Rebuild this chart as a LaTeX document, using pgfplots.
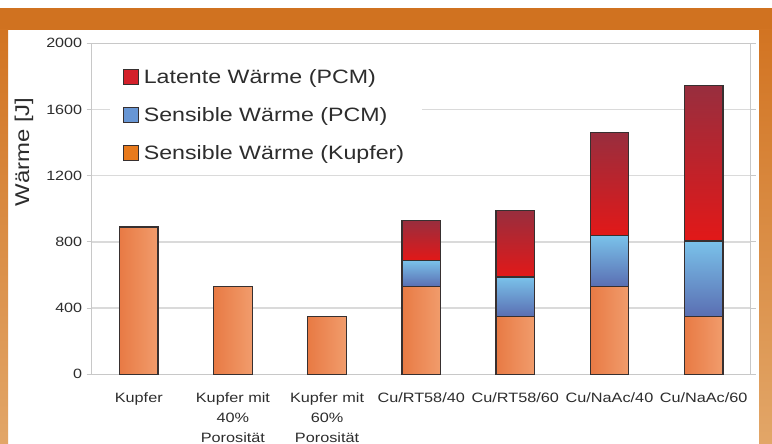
\documentclass[border=0pt]{standalone}
\usepackage{fontspec}
\setmainfont{Liberation Sans}[FakeStretch=1.2]
\usepackage{pgfplots}
\pgfplotsset{compat=1.18}

\definecolor{frameorange}{RGB}{208,114,32}
\definecolor{stripTop}{RGB}{210,116,34}
\definecolor{stripBot}{RGB}{226,166,104}
\definecolor{cuL}{RGB}{232,122,68}
\definecolor{cuR}{RGB}{241,156,108}
\definecolor{blT}{RGB}{122,194,234}
\definecolor{blB}{RGB}{90,110,178}
\definecolor{rdT}{RGB}{152,46,62}
\definecolor{rdB}{RGB}{226,24,24}
\definecolor{legRed}{RGB}{212,32,42}
\definecolor{legBlue}{RGB}{104,150,212}
\definecolor{legOrange}{RGB}{232,122,28}
\definecolor{txt}{RGB}{45,45,45}
\definecolor{gridc}{RGB}{218,218,218}
\definecolor{framec}{RGB}{200,200,200}
\definecolor{edge}{RGB}{55,48,48}

\pgfplotsset{
  panel/.style={
    at={(91.7bp,69.7bp)}, anchor=south west,
    scale only axis, width=659bp, height=331bp,
    xmin=-0.5, xmax=6.5, ymin=0, ymax=2000,
  },
  % one stacked column per axis, so that every bar gets its own shading
  column/.style={panel, hide axis, ybar stacked, bar width=0.41},
  baredge/.style={draw=edge, line width=1.2bp},
  copper/.style={baredge, left color=cuL, right color=cuR},
  pcmsens/.style={baredge, top color=blT, bottom color=blB},
  pcmlat/.style={baredge, top color=rdT, bottom color=rdB},
}

\begin{document}
\begin{tikzpicture}
  % page background and frame
  \fill[white] (0,0) rectangle (772bp,444bp);
  \fill[frameorange] (0,414bp) rectangle (772bp,436bp);
  \shade[top color=stripTop, bottom color=stripBot] (0,0) rectangle (8bp,414bp);
  \shade[top color=stripTop, bottom color=stripBot] (759bp,0) rectangle (772bp,414bp);
  \useasboundingbox (0,0) rectangle (772bp,444bp);

  \begin{axis}[
    panel,
    ybar,
    xtick={0,...,6},
    xticklabels={Kupfer,{Kupfer mit\\40\%\\Porosität},{Kupfer mit\\60\%\\Porosität},
                 Cu/RT58/40,Cu/RT58/60,Cu/NaAc/40,Cu/NaAc/60},
    ytick={0,400,...,2000},
    ymajorgrids,
    grid style={gridc, line width=1.3bp},
    axis line style={framec, line width=1.5bp},
    tick align=outside,
    major tick length=5bp,
    xtick style={draw=none},
    ytick style={framec, line width=1bp},
    /pgf/number format/assume math mode=true,
    /pgf/number format/1000 sep={},
    yticklabel style={font=\fontsize{13.5}{16}\selectfont, text=txt, xshift=-1bp},
    xticklabel style={font=\fontsize{13.6}{20}\selectfont, text=txt, align=center, yshift=-10bp},
    ylabel={Wärme [J]},
    ylabel style={at={(axis description cs:-0.1027,0.672)}, anchor=center,
                  font=\fontsize{20}{24}\selectfont, text=txt},
    legend style={at={(axis description cs:0.028,0.950)}, anchor=north west,
                  draw=none, fill=white, inner xsep=13bp, inner ysep=9bp,
                  row sep=22bp, font=\fontsize{19.4}{22}\selectfont, text=txt,
                  nodes={inner xsep=4.5bp, inner ysep=0bp}},
    legend cell align=left,
    legend image code/.code={\draw[#1] (0bp,-7.5bp) rectangle (15bp,7.5bp);},
  ]
    \addlegendimage{draw=edge, line width=1bp, fill=legRed}
    \addlegendentry{Latente Wärme (PCM)}
    \addlegendimage{draw=edge, line width=1bp, fill=legBlue}
    \addlegendentry{Sensible Wärme (PCM)}
    \addlegendimage{draw=edge, line width=1bp, fill=legOrange}
    \addlegendentry{Sensible Wärme (Kupfer)}

    % solid copper samples
    \addplot[forget plot, copper, bar width=0.41, bar shift=0pt] coordinates {(0,890)};
    \addplot[forget plot, copper, bar width=0.41, bar shift=0pt] coordinates {(1,530)};
    \addplot[forget plot, copper, bar width=0.41, bar shift=0pt] coordinates {(2,350)};
  \end{axis}

  % copper/PCM composites: copper sensible, PCM sensible, PCM latent
  \begin{axis}[column]
    \addplot[copper]  coordinates {(3,530)};
    \addplot[pcmsens] coordinates {(3,158)};
    \addplot[pcmlat]  coordinates {(3,243)};
  \end{axis}
  \begin{axis}[column]
    \addplot[copper]  coordinates {(4,350)};
    \addplot[pcmsens] coordinates {(4,238)};
    \addplot[pcmlat]  coordinates {(4,403)};
  \end{axis}
  \begin{axis}[column]
    \addplot[copper]  coordinates {(5,530)};
    \addplot[pcmsens] coordinates {(5,308)};
    \addplot[pcmlat]  coordinates {(5,623)};
  \end{axis}
  \begin{axis}[column]
    \addplot[copper]  coordinates {(6,350)};
    \addplot[pcmsens] coordinates {(6,456)};
    \addplot[pcmlat]  coordinates {(6,937)};
  \end{axis}
\end{tikzpicture}
\end{document}
